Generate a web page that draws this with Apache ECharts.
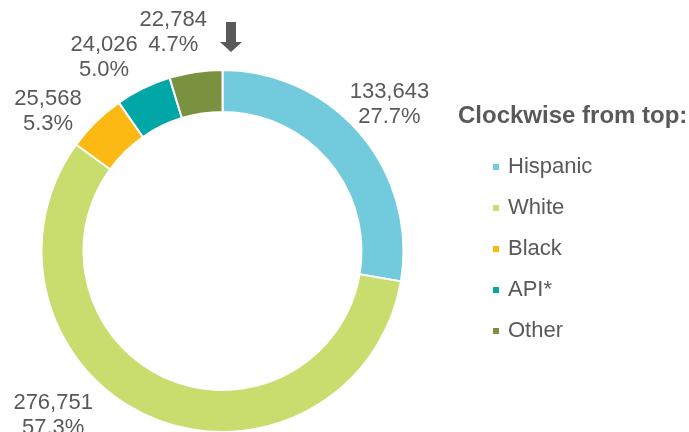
<!DOCTYPE html>
<html>
<head>
<meta charset="utf-8">
<script src="https://cdn.jsdelivr.net/npm/echarts@6/dist/echarts.min.js"></script>
<style>html,body{margin:0;padding:0;background:#fff;}#c{width:689px;height:432px;}</style>
</head>
<body>
<div id="c"></div>
<script>
var categories = ['Hispanic', 'White', 'Black', 'API*', 'Other'];
var values = [133643, 276751, 25568, 24026, 22784];
var colors = ['#71CBDC', '#C9DC6E', '#FDB913', '#00A7A6', '#7A9140'];
var legendTitle = 'Clockwise from top:';
// label nudges (px) to follow the reference's placement
var labelNudge = [[-5, -1], [-82, -43], [-17, 21], [-20, 9], [-16, 4]];

var total = values.reduce(function (a, b) { return a + b; }, 0);
var data = categories.map(function (c, i) {
  return { name: c, value: values[i], itemStyle: { color: colors[i] } };
});
var FONT = '"Liberation Sans", Arial, sans-serif';
var TXT = '#595959';

var chart = echarts.init(document.getElementById('c'), null, { renderer: 'canvas' });
chart.setOption({
  animation: false,
  backgroundColor: '#fff',
  title: {
    text: legendTitle,
    left: 458, top: 104, padding: 0,
    textStyle: { fontFamily: FONT, fontSize: 24, fontWeight: 'bold', color: TXT }
  },
  legend: {
    orient: 'vertical',
    left: 491, top: 156, padding: 0,
    itemWidth: 8, itemHeight: 8, itemGap: 19,
    icon: 'rect',
    data: categories,
    textStyle: { fontFamily: FONT, fontSize: 22, color: TXT, padding: [0, 0, 0, 3] }
  },
  graphic: [{
    type: 'polygon',
    shape: { points: [[226, 22], [236, 22], [236, 42], [242, 42], [231, 52], [220, 42], [226, 42]] },
    style: { fill: TXT }
  }],
  series: [{
    type: 'pie',
    center: [222.5, 251],
    radius: [139, 181],
    startAngle: 90,
    clockwise: true,
    label: { show: false },
    labelLine: { show: false },
    itemStyle: { borderColor: '#fff', borderWidth: 2 },
    emphasis: { disabled: true },
    data: data
  }, {
    type: 'pie',
    center: [222.5, 251],
    radius: [212, 232],
    startAngle: 90,
    clockwise: true,
    silent: true,
    itemStyle: { color: 'rgba(0,0,0,0)', opacity: 0 },
    emphasis: { disabled: true },
    labelLine: { show: false },
    label: {
      show: true,
      position: 'inside',
      fontFamily: FONT,
      fontSize: 22,
      lineHeight: 25,
      color: TXT,
      opacity: 1,
      align: 'center',
      formatter: function (p) {
        return p.value.toLocaleString('en-US') + '\n' + (p.value / total * 100).toFixed(1) + '%';
      }
    },
    labelLayout: function (p) {
      var n = labelNudge[p.dataIndex];
      return { dx: n[0], dy: n[1] };
    },
    data: categories.map(function (c, i) { return { name: c, value: values[i] }; })
  }]
});
</script>
</body>
</html>
